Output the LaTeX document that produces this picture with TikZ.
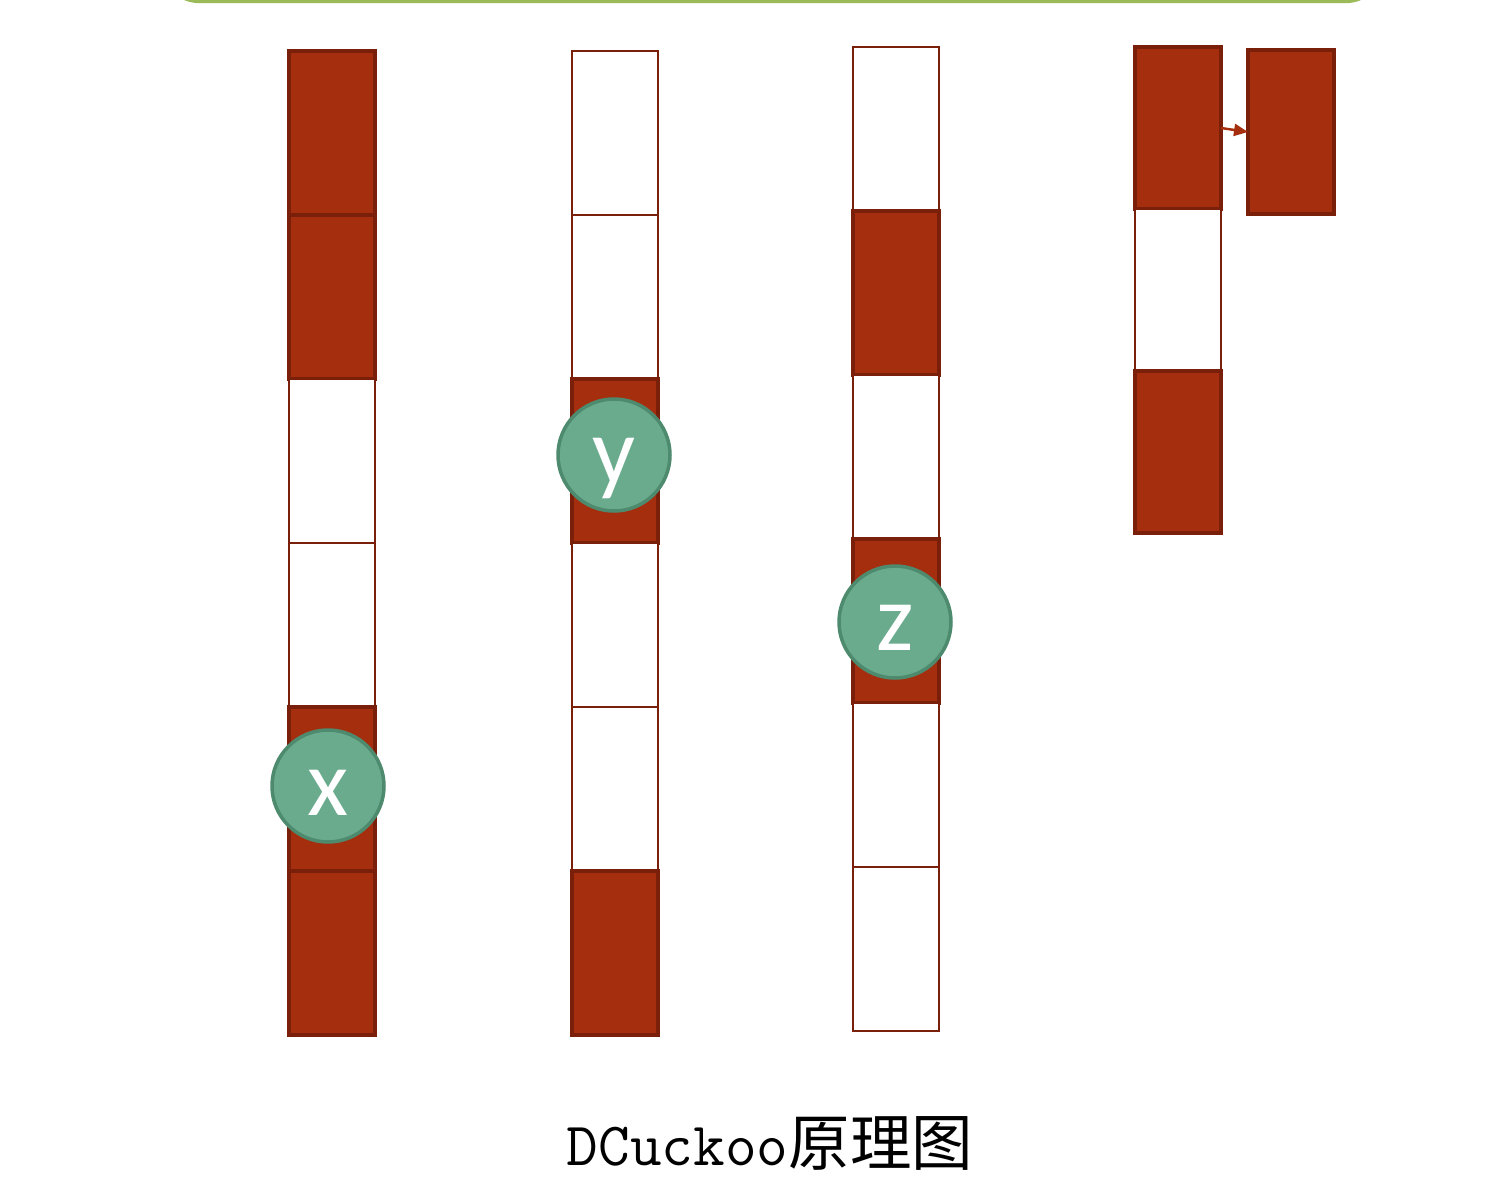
\documentclass[tikz,border=0pt]{standalone}
\usepackage{fontspec}
\newfontfamily\cjk{Noto Sans CJK SC}
\newfontfamily\keyfont{Carlito}
\usetikzlibrary{arrows.meta}
\definecolor{cellred}{RGB}{165,46,15}
\definecolor{celledge}{RGB}{122,31,10}
\definecolor{keygreen}{RGB}{106,171,142}
\definecolor{keyedge}{RGB}{77,138,110}
\definecolor{barfill}{RGB}{214,227,188}
\definecolor{baredge}{RGB}{155,187,89}

\begin{document}
\begin{tikzpicture}[x=0.02cm,y=-0.02cm,
    cell/.style={rectangle,inner sep=0pt,outer sep=0pt,minimum width=1.72cm,minimum height=3.28cm},
    full/.style={cell,fill=cellred,draw=celledge,line width=2.2pt},
    empty/.style={cell,fill=white,draw=celledge,line width=1.5pt},
    key/.style={circle,minimum size=2.24cm,inner sep=0pt,fill=keygreen,draw=keyedge,line width=2pt,
      text=white,text height=33pt,text depth=0pt,font=\keyfont\fontsize{54}{54}\selectfont}]
  \useasboundingbox (0,0) rectangle (1508,1180);
  \begin{scope}
    \clip (0,0) rectangle (1508,1180);
    \draw[fill=barfill,draw=baredge,line width=2.5pt,rounded corners=0.8cm] (160,-120) rectangle (1385,1);
  \end{scope}
  % buckets
  \foreach \s [count=\r] in {full,full,empty,empty,full,full}
    \node[\s] (a\r) at (332,{51+164*(\r-0.5)}) {};
  \foreach \s [count=\r] in {empty,empty,full,empty,empty,full}
    \node[\s] (b\r) at (615,{51+164*(\r-0.5)}) {};
  \foreach \s [count=\r] in {empty,full,empty,full,empty,empty}
    \node[\s] (c\r) at (896,{47+164*(\r-0.5)}) {};
  \foreach \s [count=\r] in {full,empty,full}
    \node[\s,minimum height=3.24cm] (d\r) at (1178,{47+162*(\r-0.5)}) {};
  \node[full] (extra) at (1291,132) {};
  \draw[-{Triangle[length=0.28cm,width=0.24cm]},cellred,line width=1.4pt] (d1.east) -- (extra.west);
  % items
  \node[key] (x) at (328,786) {x};
  \node[key] (y) at (614,455) {y};
  \node[key] (z) at (895,622) {z};
  \node (caption) at (770,1143) {\fontsize{35}{40}\selectfont\ttfamily DCuckoo\cjk 原理图};
\end{tikzpicture}
\end{document}
